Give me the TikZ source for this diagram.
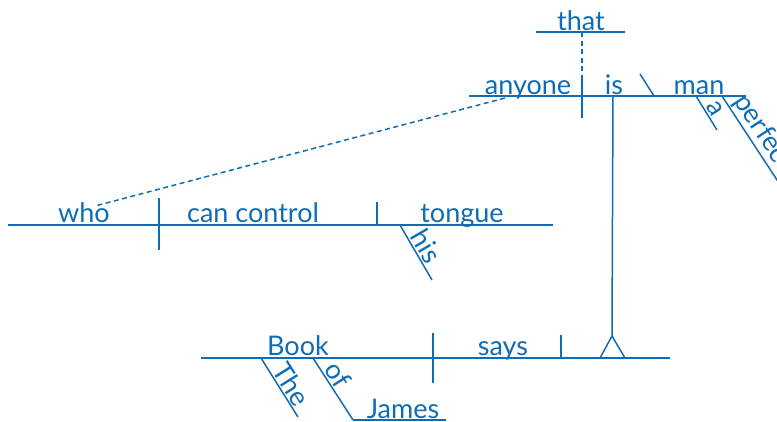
\documentclass[tikz,border=0pt]{standalone}
\usepackage{fontspec}
\setmainfont{Lato}
\definecolor{dblue}{RGB}{16,108,180}
\begin{document}
\begin{tikzpicture}[x=1pt,y=-1pt,
  ln/.style={draw=dblue,line width=1.5pt},
  dsh/.style={ln,dash pattern=on 5pt off 3.5pt},
  word/.style={text=dblue,font=\fontsize{27}{30}\selectfont,inner sep=0pt,anchor=base},
  slword/.style={text=dblue,font=\fontsize{27}{30}\selectfont,inner sep=1.5pt,sloped,above}]
\useasboundingbox (0,0) rectangle (777,421);
% top clause
\coordinate (thatL) at (536,32); \coordinate (thatR) at (625,32);
\coordinate (thatD) at (582,32);
\coordinate (mainL) at (469,96); \coordinate (mainR) at (746,96);
\coordinate (divT) at (582,75); \coordinate (divB) at (582,118);
\coordinate (isV) at (613,96);
\coordinate (bsT) at (640,74); \coordinate (bsB) at (654,96);
\coordinate (aT) at (696,96); \coordinate (aB) at (717,130);
\coordinate (pT) at (722,96); \coordinate (pB) at (800,215);
\node[word] (that) at (581,30) {that};
\node[word] (anyone) at (528,94) {anyone};
\node[word] (is) at (614,94) {is};
\node[word] (man) at (699,94) {man};
\draw[ln] (thatL) -- (thatR);
\draw[dsh] (thatD) -- (divT);
\draw[ln] (divT) -- (divB);
\draw[ln] (mainL) -- (mainR);
\draw[ln] (bsT) -- (bsB);
\draw[ln] (aT) -- (aB) node[slword,pos=0.5] (a) {a};
\draw[ln] (pT) -- (pB) node[slword,pos=0.06,anchor=south west] (perfect) {perfect};
% who clause
\coordinate (whoL) at (8,225); \coordinate (whoR) at (553,225);
\coordinate (wd1T) at (159,198); \coordinate (wd1B) at (159,250);
\coordinate (wd2T) at (377,202); \coordinate (wd2B) at (377,225);
\coordinate (hisT) at (400,225); \coordinate (hisB) at (432,280);
\node[word] (who) at (84,222) {who};
\node[word] (cancontrol) at (253,222) {can control};
\node[word] (tongue) at (462,222) {tongue};
\draw[ln] (whoL) -- (whoR);
\draw[ln] (wd1T) -- (wd1B);
\draw[ln] (wd2T) -- (wd2B);
\draw[ln] (hisT) -- (hisB) node[slword,pos=0.5] (his) {his};
\coordinate (dA) at (505,98); \coordinate (dB) at (95,206);
\draw[dsh] (dA) -- (dB);
% bottom clause
\coordinate (botL) at (201,358); \coordinate (botR) at (670,358);
\coordinate (theT) at (261,358); \coordinate (theB) at (298,417);
\coordinate (ofT) at (313,358); \coordinate (ofB) at (353,420);
\coordinate (jamR) at (446,420);
\coordinate (bd1T) at (433,333); \coordinate (bd1B) at (433,383);
\coordinate (bd2T) at (561,335); \coordinate (bd2B) at (561,358);
\coordinate (pedTop) at (612,336);
\coordinate (pedL) at (600,358); \coordinate (pedR) at (625,358);
\node[word] (Book) at (298,355) {Book};
\node[word] (says) at (503,355) {says};
\node[word] (James) at (403,418) {James};
\draw[ln] (botL) -- (botR);
\draw[ln] (theT) -- (theB) node[slword,pos=0.55] (The) {The};
\draw[ln] (ofT) -- (ofB) node[slword,pos=0.38] (of) {of};
\draw[ln] (ofB) -- (jamR);
\draw[ln] (bd1T) -- (bd1B);
\draw[ln] (bd2T) -- (bd2B);
\draw[ln] (isV) -- (pedTop);
\draw[ln] (pedL) -- (pedTop) -- (pedR);
\end{tikzpicture}
\end{document}
